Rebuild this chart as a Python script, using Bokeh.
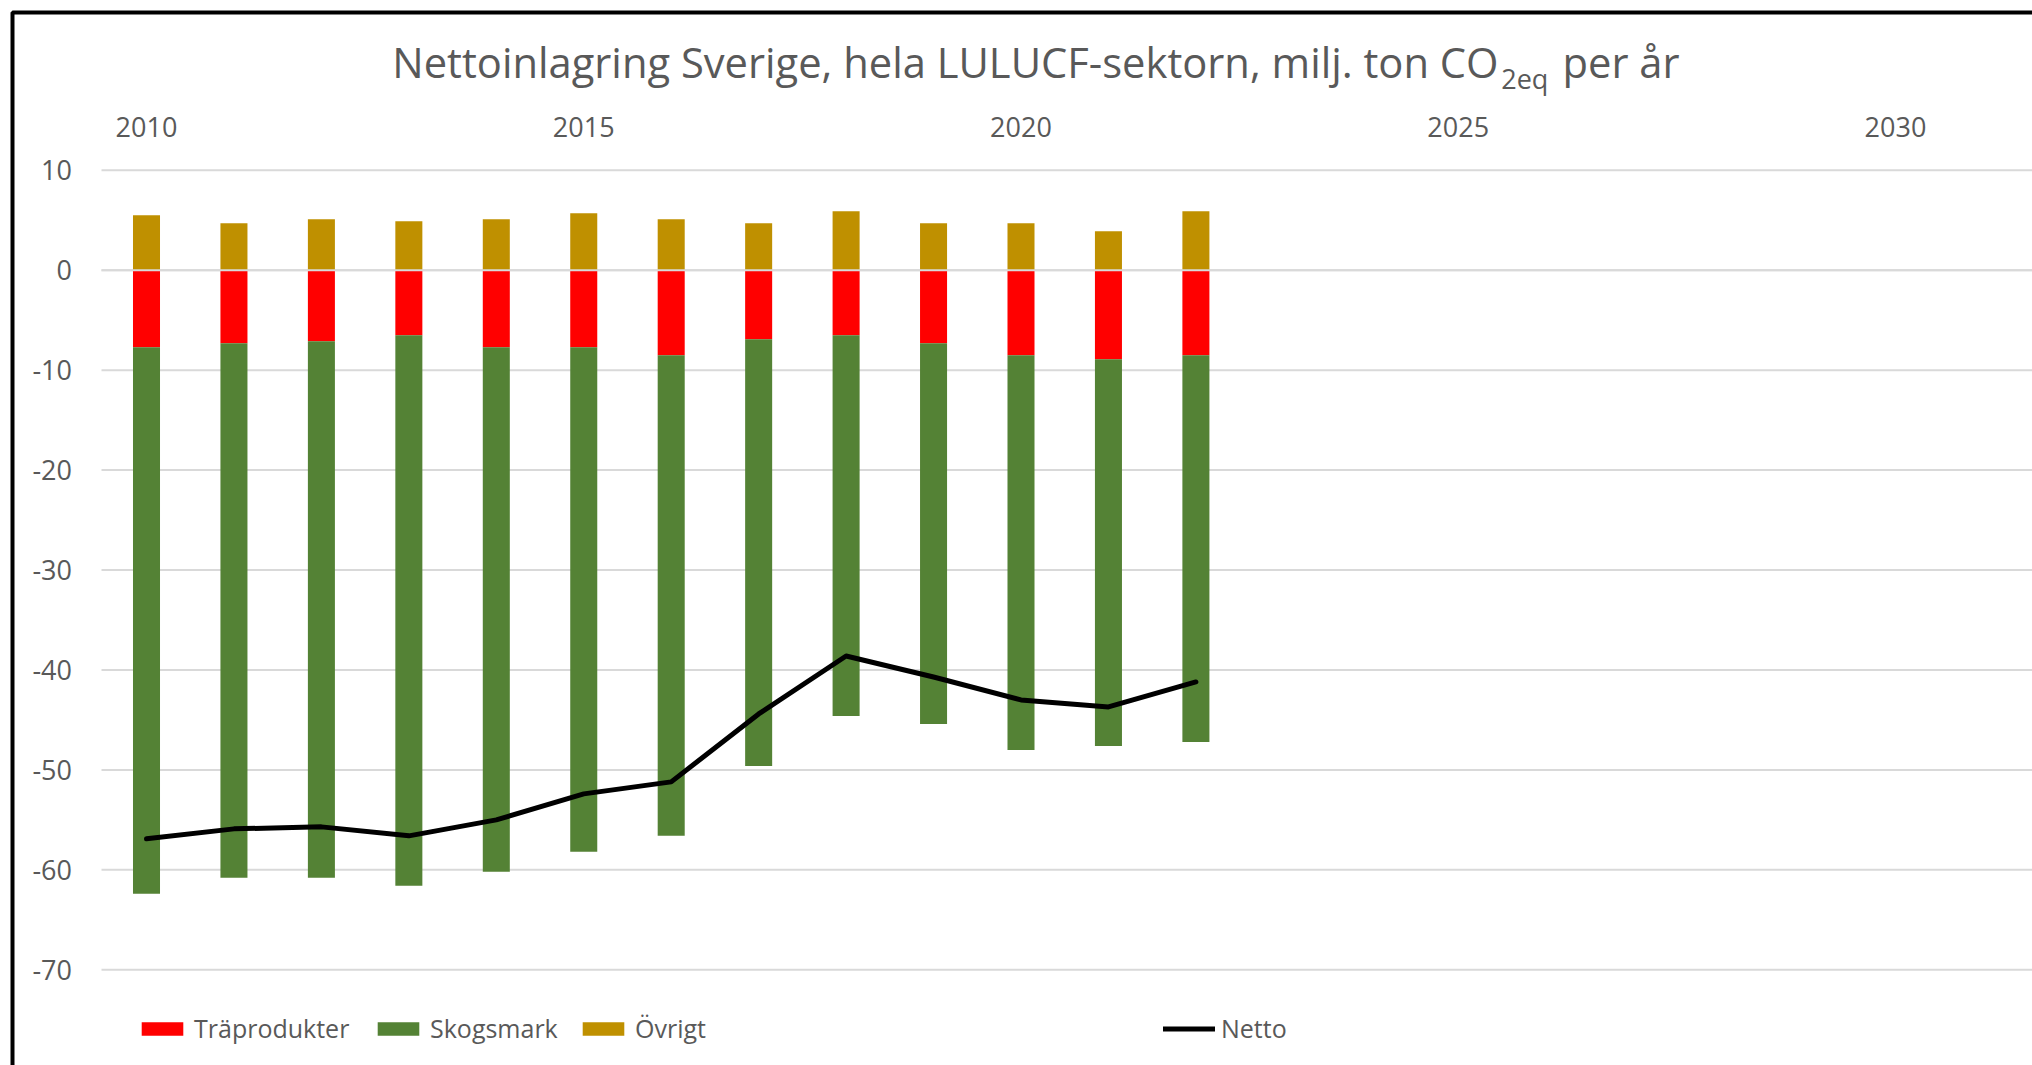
from bokeh.plotting import figure
from bokeh.models import (Range1d, Label, Legend, LegendItem, BoxAnnotation,
                          ColumnDataSource)
from bokeh.core.properties import value
from bokeh.embed import file_html
from bokeh.resources import INLINE

# ---------------- data ----------------
years = [2010, 2011, 2012, 2013, 2014, 2015, 2016, 2017, 2018, 2019, 2020, 2021, 2022]
traprodukter = [-7.7, -7.3, -7.1, -6.5, -7.7, -7.7, -8.5, -6.9, -6.5, -7.3, -8.5, -8.9, -8.5]
skogsmark = [-54.7, -53.5, -53.7, -55.1, -52.5, -50.5, -48.1, -42.7, -38.1, -38.1, -39.5, -38.7, -38.7]
ovrigt = [5.5, 4.7, 5.1, 4.9, 5.1, 5.7, 5.1, 4.7, 5.9, 4.7, 4.7, 3.9, 5.9]
netto = [-56.9, -55.9, -55.7, -56.6, -55.0, -52.4, -51.2, -44.4, -38.6, -40.7, -43.0, -43.7, -41.2]

x_ticks = [2010, 2015, 2020, 2025, 2030]
y_ticks = [-70, -60, -50, -40, -30, -20, -10, 0, 10]

series_labels = ["Träprodukter", "Skogsmark", "Övrigt", "Netto"]
title_main = "Nettoinlagring Sverige, hela LULUCF-sektorn, milj. ton CO"
title_sub = "2eq"
title_end = "per år"

# ---------------- layout constants (pixels) ----------------
W, H = 2032, 1065
PX_PER_YEAR = 87.45
PX_2010 = 146.0
PX_PER_UNIT = 9.994
PY_ZERO = 269.7
PLOT_LEFT_PX = 101

FONT = "Open Sans"
TEXT = "#595959"
GRID = "#D9D9D9"
C_RED = "#FF0000"
C_GREEN = "#548235"
C_GOLD = "#BF9000"


def dx(px):
    return 2010 + (px - PX_2010) / PX_PER_YEAR


def dy(py):
    return (PY_ZERO - py) / PX_PER_UNIT


src = ColumnDataSource(dict(year=years, tra=traprodukter, skog=skogsmark,
                            ov=ovrigt, netto=netto))

p = figure(width=W, height=H,
           x_range=Range1d(dx(0), dx(W)),
           y_range=Range1d(dy(H), dy(0)),
           x_axis_location=None, y_axis_location=None,
           toolbar_location=None, output_backend="svg",
           min_border=0)
p.outline_line_color = None
p.grid.visible = False
p.background_fill_color = "white"
p.border_fill_color = "white"

x_left = dx(PLOT_LEFT_PX)
x_right = dx(W + 10)

# gridlines (behind bars)
p.segment(x0=[x_left] * len(y_ticks), x1=[x_right] * len(y_ticks),
          y0=y_ticks, y1=y_ticks, line_color=GRID, line_width=2)

# bars
bw = 0.309
r_stack = p.vbar_stack(["tra", "skog"], x="year", width=bw,
                       fill_color=[C_RED, C_GREEN], line_color=None, source=src)
r_ov = p.vbar(x="year", top="ov", bottom=0, width=bw, fill_color=C_GOLD,
              line_color=None, source=src)

# horizontal axis line at 0 (over the bars)
p.segment(x0=[x_left], x1=[x_right], y0=[0], y1=[0], line_color=GRID, line_width=2)

# netto line
r_net = p.line("year", "netto", line_width=5, line_color="black",
               line_join="round", line_cap="round", source=src)

# tick labels: years on top, values at left
p.text(x=x_ticks, y=[dy(126.5)] * len(x_ticks), text=[str(t) for t in x_ticks],
       text_align="center", text_baseline="middle",
       text_font=value(FONT), text_font_size="27px", text_color=TEXT)
p.text(x=[dx(71.5)] * len(y_ticks), y=y_ticks, text=[str(t) for t in y_ticks],
       text_align="right", text_baseline="middle",
       text_font=value(FONT), text_font_size="27px", text_color=TEXT)

# legends
def add_leg(label, r, vx):
    leg = Legend(items=[LegendItem(label=label, renderers=[r])],
                 location=(vx, 20), orientation="horizontal",
                 padding=0, margin=0, glyph_width=52, glyph_height=17,
                 label_height=17, label_standoff=6,
                 label_text_font=FONT, label_text_font_size="25px",
                 label_text_color=TEXT, border_line_color=None,
                 background_fill_alpha=0)
    p.add_layout(leg, "center")


add_leg(series_labels[0], r_stack[0], 136)
add_leg(series_labels[1], r_stack[1], 372)
add_leg(series_labels[2], r_ov, 577)
add_leg(series_labels[3], r_net, 1163)

# title with subscript
p.add_layout(Label(x=dx(1498), y=dy(61), text=title_main,
                   text_align="right", text_baseline="middle",
                   text_font=FONT, text_font_size="41.7px", text_color=TEXT))
p.add_layout(Label(x=dx(1500.7), y=dy(77.5), text=title_sub,
                   text_align="left", text_baseline="middle",
                   text_font=FONT, text_font_size="27px", text_color=TEXT))
p.add_layout(Label(x=dx(1562), y=dy(61), text=title_end,
                   text_align="left", text_baseline="middle",
                   text_font=FONT, text_font_size="41.7px", text_color=TEXT))

# chart border (top and left edges visible)
p.add_layout(BoxAnnotation(left=dx(12), right=dx(W + 50), top=dy(12), bottom=dy(H + 50),
                           fill_alpha=0, line_color="black", line_alpha=1.0,
                           line_width=4, level="overlay"))

open("out.html", "w").write(file_html(p, INLINE))
